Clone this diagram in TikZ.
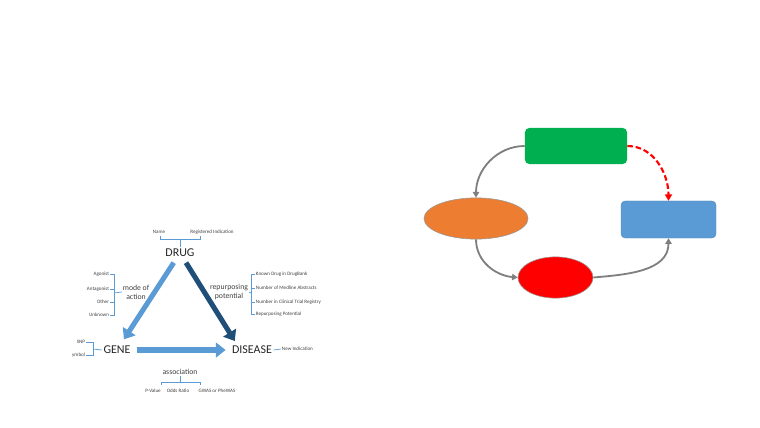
\documentclass[tikz,border=0pt]{standalone}
\usepackage{fontspec}
\setmainfont{Carlito}
\usepackage{tikz}
\usetikzlibrary{arrows.meta, positioning, shapes.geometric, calc}
\definecolor{mlightblue}{HTML}{5B9BD5}
\definecolor{mdarkblue}{HTML}{1F4E79}
\definecolor{mtext}{HTML}{404040}
\definecolor{mgray}{HTML}{7F7F7F}
\definecolor{mgreen}{HTML}{00B050}
\definecolor{morange}{HTML}{ED7D31}
\definecolor{mblue}{HTML}{5B9BD5}
\tikzset{
  lbl/.style={font=\fontsize{3.6}{4.2}\selectfont, text=mtext, inner sep=0.5pt},
  midlbl/.style={font=\fontsize{5.5}{6.2}\selectfont, text=mtext, align=center, inner sep=0.5pt},
  bigword/.style={font=\fontsize{8.5}{10}\selectfont, text=black!85, inner sep=1pt},
  brk/.style={draw=mlightblue, line width=0.5pt},
  blockarr/.style={-{Triangle[length=7pt, width=10.5pt]}, line width=3.6pt},
  flow/.style={-{Triangle[length=4pt, width=4.5pt]}, mgray, line width=1.3pt},
  dashflow/.style={-{Triangle[length=4.5pt, width=5pt]}, red, line width=1.5pt,
                   dash pattern=on 4pt off 2pt},
  rbox/.style={rectangle, rounded corners=3pt, inner sep=0pt},
  ell/.style={ellipse, draw=mgray!80, line width=0.4pt, inner sep=0pt},
}
\begin{document}
\begin{tikzpicture}[x=0.025cm, y=-0.025cm]
  \useasboundingbox (0,0) rectangle (760,427);

  % main words
  \node[bigword] (drug) at (180,253) {DRUG};
  \node[bigword] (gene) at (117,350) {GENE};
  \node[bigword] (disease) at (252,350) {DISEASE};

  % block arrows
  \draw[blockarr, mlightblue, shorten <=0.12cm, shorten >=0.15cm] (drug) -- (gene);
  \draw[blockarr, mdarkblue, shorten <=0.12cm, shorten >=0.1cm]
    (drug) -- ($(disease.north west)!0.3!(disease.north)$);
  \draw[blockarr, mlightblue, shorten <=0.12cm, shorten >=0.12cm] (gene) -- (disease);

  % drug attributes
  \node[lbl] (name) at (159,232) {Name};
  \node[lbl] (regind) at (212,232) {Registered Indication};
  \draw[brk] (160,236) -- (160,239) -- (200,239) -- (200,236);
  \draw[brk] (180,239) -- (drug.north);

  % mode of action
  \node[lbl, anchor=east] (agonist) at (110,274) {Agonist};
  \node[lbl, anchor=east] (antagonist) at (110,289) {Antagonist};
  \node[lbl, anchor=east] (other) at (110,302) {Other};
  \node[lbl, anchor=east] (unknown) at (110,315) {Unknown};
  \node[midlbl] (moa) at (136,292) {mode of\\action};
  \draw[brk] (agonist.east) -- (114,274) -- (114,315) -- (unknown.east);
  \draw[brk] (antagonist.east) -- (114,289);
  \draw[brk] (other.east) -- (114,302);
  \draw[brk] (114,293) -- (moa.west);

  % repurposing potential
  \node[midlbl] (repot) at (229,292) {repurposing\\potential};
  \node[lbl, anchor=west] (kdrug) at (255,274) {Known Drug in DrugBank};
  \node[lbl, anchor=west] (nmed) at (255,288) {Number of Medline Abstracts};
  \node[lbl, anchor=west] (nclin) at (255,302) {Number in Clinical Trial Registry};
  \node[lbl, anchor=west] (rpot) at (255,314) {Repurposing Potential};
  \draw[brk] (kdrug.west) -- (251,274) -- (251,314) -- (rpot.west);
  \draw[brk] (nmed.west) -- (251,288);
  \draw[brk] (nclin.west) -- (251,302);
  \draw[brk] (251,293) -- (repot.east);

  % gene attributes
  \node[lbl, anchor=east] (snp) at (86,342) {SNP};
  \node[lbl, anchor=east] (symb) at (86,355) {ymbol};
  \draw[brk] (snp.east) -- (93,342) -- (93,355) -- (symb.east);
  \draw[brk] (93,349) -- (gene.west);

  % disease attributes
  \node[lbl, anchor=west] (newind) at (281,349) {New Indication};
  \draw[brk] (disease.east) -- (newind.west);

  % association
  \node[midlbl] (assoc) at (180,372) {association};
  \node[lbl] (pval) at (153,391) {P-Value};
  \node[lbl] (odds) at (178,391) {Odds Ratio};
  \node[lbl] (gwas) at (217,391) {GWAS or PheWAS};
  \draw[brk] (161,385) -- (161,382) -- (200,382) -- (200,385);
  \draw[brk] (180,382) -- (assoc.south);

  % cycle on the right
  \node[rbox, fill=mgreen, minimum width=2.55cm, minimum height=0.9cm] (topbox) at (576,146) {};
  \node[ell, fill=morange, minimum width=2.6cm, minimum height=1.03cm] (leftell) at (476,218.5) {};
  \node[rbox, fill=mblue, draw=mblue!85!black, line width=0.3pt,
        minimum width=2.375cm, minimum height=0.925cm] (rightbox) at (668.5,219.5) {};
  \node[ell, fill=red, minimum width=1.875cm, minimum height=1.03cm] (botell) at (555.5,277.5) {};

  \draw[flow] (topbox.west) to[out=180, in=90] (leftell.north);
  \draw[flow] (leftell.south) to[out=-90, in=175] (botell.west);
  \draw[flow] (botell.east) to[out=5, in=-90] (rightbox.south);
  \draw[dashflow] (topbox.east) to[out=0, in=90] (rightbox.north);
\end{tikzpicture}
\end{document}
